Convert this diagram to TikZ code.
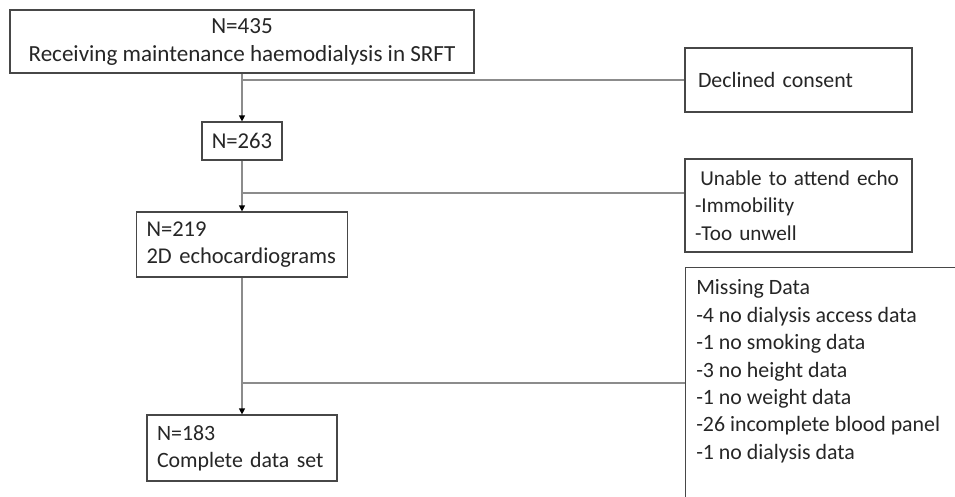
\documentclass[tikz,border=0pt]{standalone}
\usepackage{fontspec}
\setmainfont{Carlito}
\usetikzlibrary{positioning,arrows.meta}

\begin{document}
\begin{tikzpicture}[x=0.75pt,y=-0.75pt,
    box/.style={draw=black!72, line width=0.9pt, inner sep=0pt,
        font=\fontsize{16.4}{20.25}\selectfont, text=black!85},
    link/.style={draw=black!45, line width=0.9pt},
    flow/.style={link, -{Triangle[length=4.5pt,width=4.5pt,black]}}]
    \clip (0,0) rectangle (955,496);
    \fill[white] (0,0) rectangle (955,496);
    % main column
    \node[box, minimum width=348pt, minimum height=47.25pt, align=center,
        font=\fontsize{17.3}{21}\selectfont] (n435) at (242,41.5)
        {N=435\\Receiving maintenance haemodialysis in SRFT};
    \node[box, minimum width=60pt, minimum height=28.5pt, font=\fontsize{17}{21}\selectfont] (n263) at (242,141) {N=263};
    \node[box, minimum width=158.25pt, minimum height=48.75pt, align=left, text width=143.25pt,
        font=\fontsize{16.9}{20.25}\selectfont] (n219) at (242,244.5)
        {N=219\\2D echocardiograms};
    \node[box, minimum width=142.5pt, minimum height=49.5pt, align=left, text width=127.5pt] (n183) at (242,448)
        {N=183\\Complete data set};
    % exclusions
    \node[box, minimum width=170.25pt, minimum height=48pt, align=left, text width=150.75pt] (decl) at (798.5,80)
        {Declined consent};
    \node[box, minimum width=170.25pt, minimum height=69.75pt, align=left, text width=155.25pt,
        font=\fontsize{15.9}{20.7}\selectfont] (unable) at (798.5,205.5)
        {\hspace*{4pt}Unable to attend echo\\-Immobility\\-Too unwell};
    \node[box, anchor=north west, inner xsep=8pt, inner ysep=9pt,
        font=\fontsize{16.4}{20.6}\selectfont] (miss) at (685,267)
        {\parbox[t][190pt][t]{210pt}{Missing Data\\-4 no dialysis access data\\-1 no smoking data\\-3 no height data\\-1 no weight data\\-26 incomplete blood panel\\-1 no dialysis data}};
    % connectors
    \draw[flow] (n435) -- (n263);
    \draw[flow] (n263) -- (n219);
    \draw[flow] (n219) -- (n183);
    \coordinate (c1) at (n435.south |- decl.west);
    \coordinate (c2) at (242,193);
    \coordinate (c3) at (242,383);
    \draw[link] (c1) -- (decl.west);
    \draw[link] (c2) -- (c2 -| unable.west);
    \draw[link] (c3) -- (c3 -| miss.west);
\end{tikzpicture}
\end{document}
